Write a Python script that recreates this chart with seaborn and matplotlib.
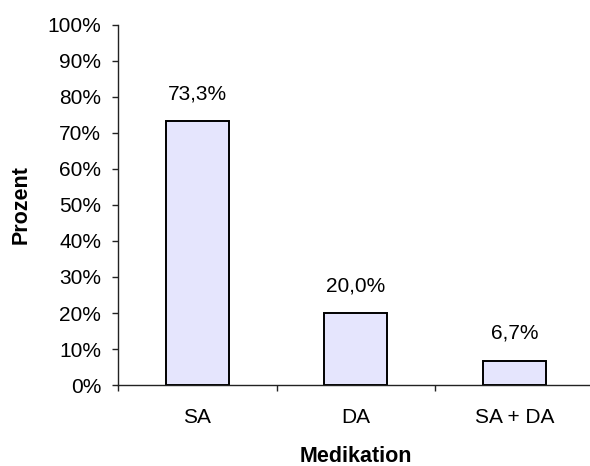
import matplotlib
matplotlib.use("Agg")
import matplotlib.pyplot as plt
from matplotlib.ticker import FixedLocator, FuncFormatter
import seaborn as sns
import pandas as pd

categories = ["SA", "DA", "SA + DA"]
percent = [73.3, 20.0, 6.7]
value_labels = ["73,3%", "20,0%", "6,7%"]
y_ticks = [0, 10, 20, 30, 40, 50, 60, 70, 80, 90, 100]

sns.set_style("white", {"text.color": "black", "axes.labelcolor": "black",
                        "xtick.color": "black", "ytick.color": "black"})
plt.rcParams["font.family"] = ["Liberation Sans", "DejaVu Sans"]

df = pd.DataFrame({"Medikation": categories, "Prozent": percent})

fig = plt.figure(figsize=(5.9, 4.66), dpi=100)
ax = fig.add_axes([0.2, 0.1738, 0.806, 0.7726])

sns.barplot(data=df, x="Medikation", y="Prozent", ax=ax, width=0.4,
            color="#E5E5FD", saturation=1, edgecolor="black", linewidth=1.4)

ax.set_xlim(-0.5, 2.5)
ax.set_ylim(0, 100)
ax.yaxis.set_major_locator(FixedLocator(y_ticks))
ax.yaxis.set_major_formatter(FuncFormatter(lambda v, p: f"{int(v)}%"))

for i, (v, lab) in enumerate(zip(percent, value_labels)):
    ax.text(i, v + 5.0, lab, ha="center", va="bottom", fontsize=15, color="black")

for s in ["top", "right"]:
    ax.spines[s].set_visible(False)
for s in ["left", "bottom"]:
    ax.spines[s].set_color("#222222")
    ax.spines[s].set_linewidth(1.0)

ax.tick_params(axis="y", which="major", left=True, length=4.5, width=1,
               color="#222222", labelcolor="black", labelsize=15, pad=7.5)
ax.tick_params(axis="x", which="major", bottom=False, labelcolor="black",
               labelsize=15, pad=13)
ax.xaxis.set_minor_locator(FixedLocator([-0.5, 0.5, 1.5, 2.5]))
ax.tick_params(axis="x", which="minor", bottom=True, length=4.5, width=1,
               color="#222222")

ax.set_xlabel("Medikation", fontsize=15.5, fontweight="bold", labelpad=13.5,
              color="black")
ax.set_ylabel("Prozent", fontsize=15.5, fontweight="bold", labelpad=11.5,
              color="black")
ax.grid(False)

fig.savefig("out.png", dpi=100)
